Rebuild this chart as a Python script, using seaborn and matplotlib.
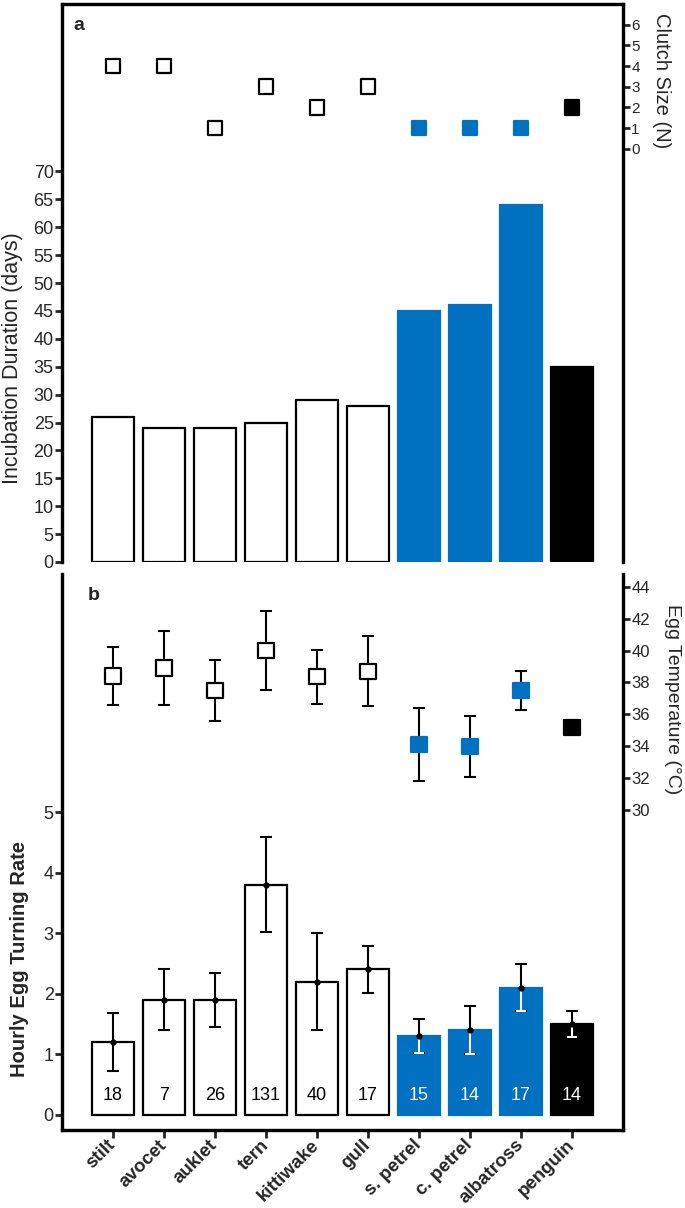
import numpy as np
import pandas as pd
import matplotlib
matplotlib.use("Agg")
import matplotlib.pyplot as plt
import seaborn as sns

# ---------------------------------------------------------------------------
# Data
# ---------------------------------------------------------------------------
species = ["stilt", "avocet", "auklet", "tern", "kittiwake", "gull",
           "s. petrel", "c. petrel", "albatross", "penguin"]
bird_group = ["other"] * 6 + ["petrel"] * 3 + ["penguin"]

incubation_days = [26, 24, 24, 25, 29, 28, 45, 46, 64, 35]
clutch_size = [4, 4, 1, 3, 2, 3, 1, 1, 1, 2]

egg_temp_mean = [38.4, 38.9, 37.5, 40.0, 38.35, 38.7, 34.1, 34.0, 37.5, 35.2]
egg_temp_sd = [1.8, 2.3, 1.9, 2.5, 1.7, 2.2, 2.3, 1.9, 1.2, 0.3]

turn_rate_mean = [1.2, 1.9, 1.9, 3.8, 2.2, 2.4, 1.3, 1.4, 2.1, 1.5]
turn_rate_sd = [0.48, 0.5, 0.45, 0.78, 0.8, 0.38, 0.28, 0.4, 0.39, 0.21]
n_eggs = [18, 7, 26, 131, 40, 17, 15, 14, 17, 14]

BLUE = "#0070C0"
group_face = {"other": "white", "petrel": BLUE, "penguin": "black"}
group_edge = {"other": "black", "petrel": BLUE, "penguin": "black"}
group_text = {"other": "black", "petrel": "white", "penguin": "white"}

face_colors = [group_face[g] for g in bird_group]
edge_colors = [group_edge[g] for g in bird_group]

df = pd.DataFrame({
    "species": species,
    "group": bird_group,
    "incubation": incubation_days,
    "clutch": clutch_size,
    "temp": egg_temp_mean,
    "temp_sd": egg_temp_sd,
    "turn": turn_rate_mean,
    "turn_sd": turn_rate_sd,
    "n": n_eggs,
})
df["pos"] = np.arange(len(df))

# ---------------------------------------------------------------------------
# Style
# ---------------------------------------------------------------------------
sns.set_style("ticks")
plt.rcParams["font.family"] = ["Liberation Sans", "DejaVu Sans"]
SPINE_W = 2.3

W, H = 685, 1208
fig = plt.figure(figsize=(W / 100, H / 100), dpi=100)


def px_axes(left, top, right, bottom):
    return fig.add_axes([left / W, 1 - bottom / H, (right - left) / W, (bottom - top) / H])


ax_a = px_axes(62, 4, 623, 562)
ax_b = px_axes(62, 574, 623, 1130)


def style_frame(ax, hide):
    for s in ax.spines.values():
        s.set_linewidth(SPINE_W)
        s.set_color("black")
    ax.spines[hide].set_visible(False)


# ---------------------------------------------------------------------------
# Panel a: incubation duration + clutch size
# ---------------------------------------------------------------------------
sns.barplot(data=df, x="species", y="incubation", hue="species", palette=face_colors,
            legend=False, width=0.83, linewidth=1.6, saturation=1, ax=ax_a)
for p, ec in zip(ax_a.patches, edge_colors):
    p.set_edgecolor(ec)
ax_a.set_xlim(-1, 10)
ax_a.set_ylim(0, 100)
ax_a.set_yticks(np.arange(0, 71, 5))
ax_a.tick_params(axis="y", labelsize=13, length=5, width=2, pad=1)
ax_a.tick_params(axis="x", bottom=False, labelbottom=False)
ax_a.set_xlabel("")
ax_a.set_ylabel("Incubation Duration (days)", fontsize=15.5, ha="center", va="center")
ax_a.yaxis.set_label_coords(-0.089, 0.366)
style_frame(ax_a, "bottom")

ax_a2 = ax_a.twinx()
sns.scatterplot(data=df, x="pos", y="clutch", hue="species", palette=face_colors,
                legend=False, marker="s", s=110, ax=ax_a2,
                edgecolor=edge_colors, linewidth=1.6)
ax_a2.set_ylim(-20, 7)
ax_a2.set_yticks(range(0, 7))
ax_a2.tick_params(axis="y", labelsize=11, length=5, width=2, pad=1)
ax_a2.set_ylabel("Clutch Size (N)", fontsize=14.5, rotation=270, ha="center", va="center")
ax_a2.yaxis.set_label_coords(1.068, 0.862)
ax_a2.set_xlabel("")
style_frame(ax_a2, "bottom")
ax_a.text(0.03, 0.962, "a", transform=ax_a.transAxes, fontsize=14,
          fontweight="bold", ha="center", va="center")

# ---------------------------------------------------------------------------
# Panel b: egg turning rate + egg temperature
# ---------------------------------------------------------------------------
sns.barplot(data=df, x="species", y="turn", hue="species", palette=face_colors,
            legend=False, width=0.83, linewidth=1.6, saturation=1, ax=ax_b)
for p, ec in zip(ax_b.patches, edge_colors):
    p.set_edgecolor(ec)

ax_b.errorbar(df["pos"], df["turn"], yerr=df["turn_sd"], fmt="none",
              ecolor="black", elinewidth=1.5, capsize=4.5, capthick=1.5, zorder=4)
# lower half of the error bar drawn in white inside filled bars
filled = df[df["group"] != "other"]
ax_b.vlines(filled["pos"], filled["turn"] - filled["turn_sd"], filled["turn"],
            colors="white", linewidth=1.5, zorder=5)
ax_b.hlines(filled["turn"] - filled["turn_sd"], filled["pos"] - 0.09, filled["pos"] + 0.09,
            colors="white", linewidth=1.5, zorder=5)
ax_b.scatter(df["pos"], df["turn"], s=12, color="black", zorder=6)

for i, row in df.iterrows():
    ax_b.text(row["pos"], 0.32, str(row["n"]), ha="center", va="center",
              fontsize=13, color=group_text[row["group"]], zorder=6)

ax_b.set_xlim(-1, 10)
ax_b.set_ylim(-0.25, 8.93)
ax_b.set_yticks(range(0, 6))
ax_b.tick_params(axis="y", labelsize=13, length=5, width=2, pad=1)
ax_b.tick_params(axis="x", length=6, width=2, pad=3)
ax_b.set_xticks(df["pos"])
ax_b.set_xticklabels(species, rotation=45, ha="right", va="center",
                     rotation_mode="anchor", fontsize=13.5, fontweight="bold")
ax_b.set_xlabel("")
ax_b.set_ylabel("Hourly Egg Turning Rate", fontsize=14.5, fontweight="bold",
                ha="center", va="center")
ax_b.yaxis.set_label_coords(-0.075, 0.308)
style_frame(ax_b, "top")

ax_b2 = ax_b.twinx()
ax_b2.errorbar(df["pos"], df["temp"], yerr=df["temp_sd"], fmt="none",
               ecolor="black", elinewidth=1.5, capsize=4.5, capthick=1.5, zorder=2)
sns.scatterplot(data=df, x="pos", y="temp", hue="species", palette=face_colors,
                legend=False, marker="s", s=120, ax=ax_b2,
                edgecolor=edge_colors, linewidth=1.6, zorder=3)
ax_b2.set_ylim(9.94, 44.8)
ax_b2.set_yticks(range(30, 45, 2))
ax_b2.tick_params(axis="y", labelsize=12, length=5, width=2, pad=1)
ax_b2.set_ylabel("Egg Temperature (°C)", fontsize=14, rotation=270,
                 ha="center", va="center")
ax_b2.yaxis.set_label_coords(1.088, 0.775)
ax_b2.set_xlabel("")
style_frame(ax_b2, "top")
ax_b.text(0.057, 0.962, "b", transform=ax_b.transAxes, fontsize=14,
          fontweight="bold", ha="center", va="center")

fig.savefig("out.png", dpi=100)
plt.close(fig)
